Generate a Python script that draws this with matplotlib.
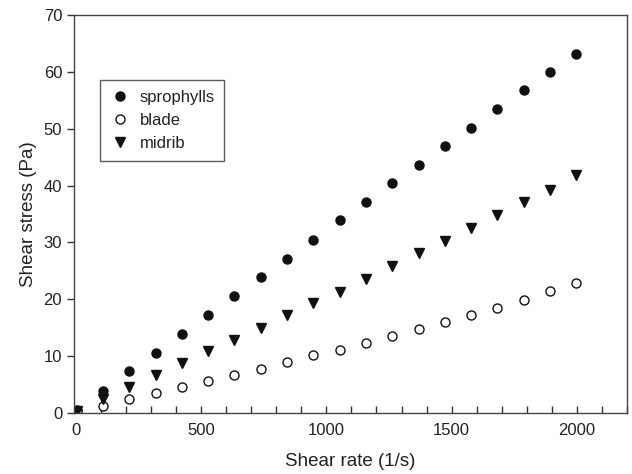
import matplotlib
matplotlib.use('Agg')
import matplotlib.pyplot as plt
from matplotlib.ticker import MultipleLocator

plt.rcParams['font.family'] = ['Liberation Sans', 'DejaVu Sans']

shear_rate = [3, 108, 213, 318, 423, 528, 633, 738, 843, 948,
              1053, 1158, 1263, 1368, 1473, 1578, 1683, 1788, 1893, 1998]
sprophylls = [0.5, 3.9, 7.4, 10.6, 13.9, 17.2, 20.5, 23.9, 27.1, 30.5,
              33.9, 37.2, 40.4, 43.7, 47.0, 50.1, 53.5, 56.8, 60.0, 63.2]
blade = [0.3, 1.2, 2.4, 3.5, 4.6, 5.6, 6.7, 7.8, 8.9, 10.1,
         11.1, 12.3, 13.5, 14.7, 16.0, 17.2, 18.4, 19.9, 21.4, 22.8]
midrib = [0.4, 2.4, 4.6, 6.7, 8.7, 10.8, 12.9, 15.0, 17.2, 19.4,
          21.3, 23.6, 25.8, 28.1, 30.3, 32.5, 34.8, 37.2, 39.3, 41.8]

fig = plt.figure(figsize=(6.32, 4.74), dpi=100)
ax = fig.add_axes([0.117, 0.129, 0.875, 0.839])

ax.plot(shear_rate, sprophylls, 'o', color='#111111', ms=6.5, ls='none', label='sprophylls')
ax.plot(shear_rate, blade, 'o', mfc='white', mec='#111111', mew=1.0, ms=6.5, ls='none', label='blade')
ax.plot(shear_rate, midrib, 'v', color='#111111', ms=7, ls='none', label='midrib')

ax.set_xlim(-8, 2200)
ax.set_ylim(0, 70)
ax.xaxis.set_major_locator(MultipleLocator(500))
ax.xaxis.set_minor_locator(MultipleLocator(100))
ax.yaxis.set_major_locator(MultipleLocator(10))
ax.tick_params(axis='x', which='both', direction='in', length=5, width=1, colors='#333333', labelcolor='#222222', labelsize=12, pad=7)
ax.tick_params(axis='y', which='both', direction='out', length=5, width=1, colors='#333333', labelcolor='#222222', labelsize=12)
for s in ax.spines.values():
    s.set_color('#444444')
    s.set_linewidth(1)

ax.set_xlabel('Shear rate (1/s)', fontsize=13.5, color='#222222', labelpad=11)
ax.set_ylabel('Shear stress (Pa)', fontsize=13.5, color='#222222', labelpad=5)

leg = ax.legend(loc='upper left', bbox_to_anchor=(0.047, 0.837), fontsize=12, frameon=True,
                fancybox=False, edgecolor='#333333', borderpad=0.58, handletextpad=0.5,
                labelspacing=0.5, handlelength=1.3, borderaxespad=0)
leg.get_frame().set_linewidth(1)
for t in leg.get_texts():
    t.set_color('#222222')

fig.savefig('out.png', dpi=100)
